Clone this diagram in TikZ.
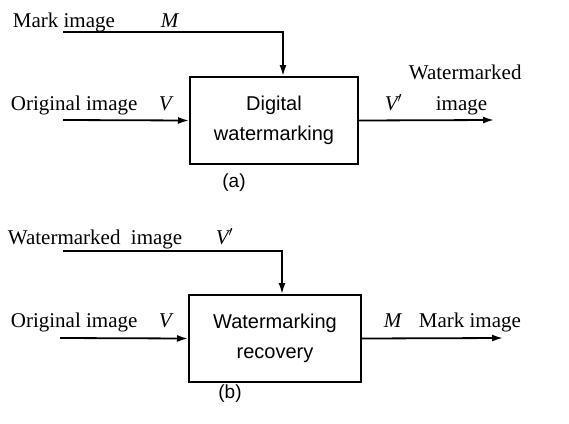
\documentclass[tikz,border=0pt]{standalone}
\usepackage{fontspec}
\setmainfont{Liberation Serif}
\setsansfont{Liberation Sans}
\usetikzlibrary{arrows.meta}
\begin{document}
\begin{tikzpicture}[x=1pt,y=-1pt,
  line width=1.8pt,
  lbl/.style={anchor=base west,inner sep=0pt,font=\fontsize{21}{24}\selectfont},
  captext/.style={anchor=base,inner sep=0pt,font=\sffamily\fontsize{19}{24}\selectfont},
  blk/.style={draw,line width=2pt,align=center,font=\sffamily\fontsize{20}{30}\selectfont,inner sep=0pt},
  arr/.style={-{Latex[length=11pt,width=7pt]}}]
\useasboundingbox (0,0) rectangle (569,423);
% (a)
\node[blk,minimum width=168pt,minimum height=87pt] (A) at (274,120.5) {Digital\\watermarking};
\node[lbl] (la1) at (12,27) {Mark image};
\node[lbl] (la2) at (160,27) {\itshape M};
\node[lbl] (la3) at (10,110) {Original image};
\node[lbl] (la4) at (158,110) {\itshape V};
\node[lbl] (la5) at (384,110) {\itshape V$'$};
\node[lbl] (la6) at (408,79) {Watermarked};
\node[lbl] (la7) at (435,110) {image};
\node[captext] (ca) at (234,187) {(a)};
\coordinate (am) at (63,32);
\coordinate (av) at (63,120);
\coordinate (ao) at (494,120);
\draw[arr] (am) -| ([xshift=9pt]A.north);
\draw[arr] (av) -- (A.west);
\draw[arr] (A.east) -- (ao);
% (b)
\node[blk,minimum width=172pt,minimum height=87pt] (B) at (275,338.5) {Watermarking\\recovery};
\node[lbl] (lb1) at (7,244) {Watermarked\ \ image};
\node[lbl] (lb2) at (215,244) {\itshape V$'$};
\node[lbl] (lb3) at (10,327) {Original image};
\node[lbl] (lb4) at (158,327) {\itshape V};
\node[lbl] (lb5) at (383,327) {\itshape M};
\node[lbl] (lb6) at (418,327) {Mark image};
\node[captext] (cb) at (230,398) {(b)};
\coordinate (bm) at (63,251);
\coordinate (bv) at (60,338);
\coordinate (bo) at (503,338);
\draw[arr] (bm) -| ([xshift=7pt]B.north);
\draw[arr] (bv) -- (B.west);
\draw[arr] (B.east) -- (bo);
\end{tikzpicture}
\end{document}
